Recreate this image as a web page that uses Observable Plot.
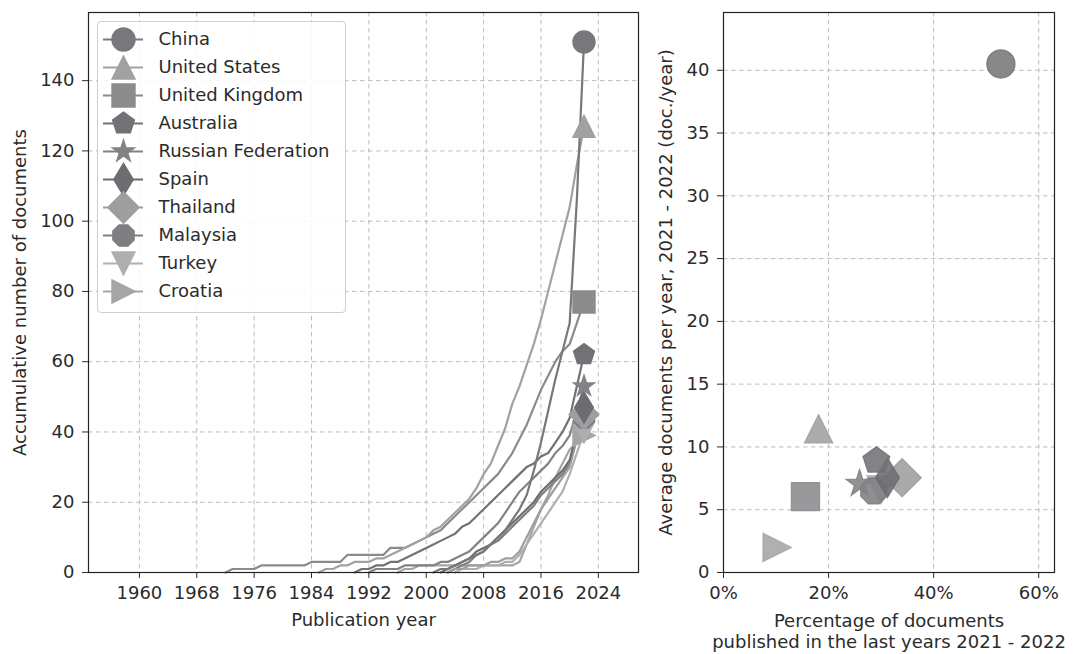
<!DOCTYPE html>
<html><head><meta charset="utf-8">
<script src="https://cdn.jsdelivr.net/npm/d3@7"></script>
<script src="https://cdn.jsdelivr.net/npm/@observablehq/plot@0.6"></script>
<style>
html,body{margin:0;padding:0;background:#fff;}
#wrap{position:relative;width:1074px;height:654px;overflow:hidden;font-family:"DejaVu Sans";}
#left{position:absolute;left:0;top:0;}
#right{position:absolute;left:645px;top:0;}
#legend{position:absolute;left:97px;top:21px;width:247px;height:290px;border:1px solid #cfcfcf;border-radius:4px;background:rgba(255,255,255,0.88);}
</style></head><body><div id="wrap"><div id="left"></div><div id="right"></div><div id="legend"></div></div>
<script>
// ---------- data ----------
const countries = ["China","United States","United Kingdom","Australia","Russian Federation","Spain","Thailand","Malaysia","Turkey","Croatia"];
const grays = ["#77787b","#a1a1a3","#8b8b8d","#717275","#838386","#6c6d70","#9e9ea0","#7e7f82","#afafb1","#a5a5a7"];
const firstYear = [2001, 1985, 1972, 1990, 1992, 2002, 2003, 2003, 2004, 1996];
const cumChina = [0,1,1,2,3,4,5,6,8,10,12,15,18,22,29,37,46,55,63,71,106,151];
const cumUnitedStates = [0,1,1,2,2,3,3,3,4,4,5,6,7,8,9,10,12,13,15,17,19,21,24,28,31,36,41,48,53,59,65,72,80,88,96,104,116,127];
const cumUnitedKingdom = [0,1,1,1,1,2,2,2,2,2,2,2,3,3,3,3,3,5,5,5,5,5,5,7,7,7,8,9,10,11,12,14,16,18,20,22,24,26,28,31,34,38,42,47,52,56,60,63,65,71,77];
const cumAustralia = [0,1,1,2,2,3,3,4,5,6,7,8,9,10,11,13,14,16,18,20,22,24,26,28,30,31,33,34,37,40,44,53,62];
const cumRussia = [0,1,1,1,1,2,2,2,2,2,3,3,4,5,6,8,10,12,14,17,20,23,25,27,29,31,34,36,39,46,53];
const cumSpain = [0,1,2,3,4,6,7,8,10,12,14,16,18,20,23,25,27,29,32,40,47];
const cumThailand = [0,1,1,2,2,2,3,3,4,4,6,10,14,18,21,24,27,30,38,45];
const cumMalaysia = [0,1,2,3,5,6,8,9,11,13,15,17,19,22,24,26,28,31,38,44];
const cumTurkey = [0,1,1,1,2,2,2,3,3,5,8,11,14,17,20,23,28,34,40];
const cumCroatia = [0,1,1,2,2,2,2,2,2,2,2,2,2,2,2,2,2,3,8,13,18,22,27,31,35,37,39];
const cumSeries = [cumChina,cumUnitedStates,cumUnitedKingdom,cumAustralia,cumRussia,cumSpain,cumThailand,cumMalaysia,cumTurkey,cumCroatia];

const pctRecent = [0.528,0.181,0.156,0.291,0.259,0.312,0.340,0.286,0.300,0.102];
const avgPerYear = [40.5,11.45,6.04,8.9,7.07,7.55,7.55,6.5,6.6,2.0];

const xTicksLeft = [1960,1968,1976,1984,1992,2000,2008,2016,2024];
const yTicksLeft = [0,20,40,60,80,100,120,140];
const xTicksRight = [0,0.2,0.4,0.6];
const yTicksRight = [0,5,10,15,20,25,30,35,40];

const xLabelLeft = "Publication year";
const yLabelLeft = "Accumulative number of documents";
const xLabelRight = "Percentage of documents\npublished in the last years 2021 - 2022";
const yLabelRight = "Average documents per year, 2021 - 2022 (doc./year)";

// ---------- marker shapes (matplotlib-like) ----------
function R(size){ return Math.sqrt(size/Math.PI); }
function polyPts(ctx, pts){ pts.forEach(([x,y],i)=> i?ctx.lineTo(x,y):ctx.moveTo(x,y)); ctx.closePath(); }
function regular(n, rot, k=1){ return {draw(ctx,size){ const r=R(size)*k; const pts=[]; for(let i=0;i<n;i++){const a=rot+2*Math.PI*i/n; pts.push([r*Math.sin(a),-r*Math.cos(a)]);} polyPts(ctx,pts);} }; }
const mCircle = {draw(ctx,size){ const r=R(size); ctx.moveTo(r,0); ctx.arc(0,0,r,0,2*Math.PI); ctx.closePath(); }};
const mTriUp = {draw(ctx,size){ const r=R(size); polyPts(ctx,[[0,-r],[-r,r],[r,r]]); }};
const mTriDown = {draw(ctx,size){ const r=R(size); polyPts(ctx,[[0,r],[-r,-r],[r,-r]]); }};
const mTriRight = {draw(ctx,size){ const r=R(size); polyPts(ctx,[[r,0],[-r,-r],[-r,r]]); }};
const mSquare = {draw(ctx,size){ const r=R(size); polyPts(ctx,[[-r,-r],[r,-r],[r,r],[-r,r]]); }};
const mPentagon = regular(5, 0);
const mOctagon = regular(8, Math.PI/8);
const mStar = {draw(ctx,size){ const r=R(size); const pts=[]; for(let i=0;i<10;i++){const a=Math.PI*i/5; const rr= i%2? r*0.381966 : r; pts.push([rr*Math.sin(a),-rr*Math.cos(a)]);} polyPts(ctx,pts); }};
const mThinDiamond = {draw(ctx,size){ const r=R(size)*1.414; polyPts(ctx,[[0,-r],[0.6*r,0],[0,r],[-0.6*r,0]]); }};
const mDiamond = {draw(ctx,size){ const r=R(size)*1.36; polyPts(ctx,[[0,-r],[r,0],[0,r],[-r,0]]); }};
const markerShapes = [mCircle,mTriUp,mSquare,mPentagon,mStar,mThinDiamond,mDiamond,mOctagon,mTriDown,mTriRight];

// ---------- tables (drawn last-country-first so earlier countries sit on top) ----------
const lineRows = [];
const lastRows = [];
countries.forEach((c,i)=>{
  cumSeries[i].forEach((v,j)=> lineRows.push({country:c, year:firstYear[i]+j, value:v}));
  const s = cumSeries[i];
  lastRows.push({country:c, year:firstYear[i]+s.length-1, value:s[s.length-1]});
});
lastRows.reverse();
const lineRowsOrdered = countries.slice().reverse().flatMap(c => lineRows.filter(d => d.country === c));
const rightRows = countries.map((c,i)=>({country:c, pct:pctRecent[i], avg:avgPerYear[i]})).reverse();

const colorScale = {domain: countries, range: grays};
const symbolScale = {domain: countries, range: markerShapes};
const baseStyle = {fontFamily: "'DejaVu Sans'", fontSize: "18px", color: "#2b2b2b", background: "transparent"};
const gridOpts = {stroke: "#bdbdbd", strokeOpacity: 1, strokeWidth: 1, strokeDasharray: "4.5,3.5"};

// ---------- left chart ----------
const left = Plot.plot({
  width: 645, height: 654,
  marginLeft: 88, marginRight: 7, marginTop: 12, marginBottom: 82,
  style: baseStyle,
  x: {domain: [1952.9, 2029.6]},
  y: {domain: [0, 159.4]},
  color: colorScale,
  symbol: symbolScale,
  marks: [
    Plot.gridX(xTicksLeft, gridOpts),
    Plot.gridY(yTicksLeft, gridOpts),
    Plot.line(lineRowsOrdered, {x: "year", y: "value", z: "country", stroke: "country", strokeWidth: 2.2}),
    Plot.dot(lastRows, {x: "year", y: "value", symbol: "country", fill: "country", stroke: "country", strokeWidth: 1.4, r: 11}),
    Plot.axisX(xTicksLeft, {tickSize: 6, tickPadding: 8, label: null, tickFormat: d => String(d), fontSize: 18}),
    Plot.axisY(yTicksLeft, {tickSize: 6, tickPadding: 8, label: null, fontSize: 18}),
    Plot.frame({stroke: "#222", strokeWidth: 1.2}),
    Plot.text([xLabelLeft], {frameAnchor: "bottom", dy: 48, lineAnchor: "middle", fontSize: 18, fill: "#2b2b2b"}),
    Plot.text([yLabelLeft], {frameAnchor: "left", rotate: -90, dx: -68, textAnchor: "middle", lineAnchor: "middle", fontSize: 18, fill: "#2b2b2b"})
  ]
});
document.getElementById("left").appendChild(left);

// ---------- legend ----------
const legend = Plot.plot({
  width: 247, height: 290, margin: 0,
  style: baseStyle,
  x: {domain: [0, 1], range: [5, 45], axis: null},
  y: {type: "point", domain: countries, range: [14.7, 271], padding: 0, axis: null},
  color: colorScale,
  symbol: symbolScale,
  marks: [
    Plot.ruleY(countries, {y: d => d, x1: () => 0, x2: () => 1, stroke: d => d, strokeWidth: 2.2}),
    Plot.dot(countries, {x: () => 0.5, y: d => d, symbol: d => d, fill: d => d, stroke: d => d, strokeWidth: 1.4, r: 11.5}),
    Plot.text(countries, {x: () => 1, y: d => d, text: d => d, dx: 15, textAnchor: "start", fontSize: 18, fill: "#2b2b2b"})
  ]
});
document.getElementById("legend").appendChild(legend);

// ---------- right chart ----------
const right = Plot.plot({
  width: 429, height: 654,
  marginLeft: 78, marginRight: 20, marginTop: 12, marginBottom: 82,
  style: baseStyle,
  x: {domain: [0, 0.63]},
  y: {domain: [0, 44.6]},
  color: colorScale,
  symbol: symbolScale,
  marks: [
    Plot.gridX(xTicksRight, gridOpts),
    Plot.gridY(yTicksRight, gridOpts),
    Plot.dot(rightRows, {x: "pct", y: "avg", symbol: "country", fill: "country", stroke: "country", strokeWidth: 1.4, r: 14, fillOpacity: 0.88, strokeOpacity: 0.88}),
    Plot.axisX(xTicksRight, {tickSize: 6, tickPadding: 8, label: null, tickFormat: d3.format(".0%"), fontSize: 18}),
    Plot.axisY(yTicksRight, {tickSize: 6, tickPadding: 8, label: null, fontSize: 18}),
    Plot.frame({stroke: "#222", strokeWidth: 1.2}),
    Plot.text([xLabelRight], {frameAnchor: "bottom", dy: 58.5, lineAnchor: "middle", lineHeight: 1.17, fontSize: 18, fill: "#2b2b2b"}),
    Plot.text([yLabelRight], {frameAnchor: "left", rotate: -90, dx: -57, textAnchor: "middle", lineAnchor: "middle", fontSize: 18, fill: "#2b2b2b"})
  ]
});
document.getElementById("right").appendChild(right);
</script>
</body></html>
